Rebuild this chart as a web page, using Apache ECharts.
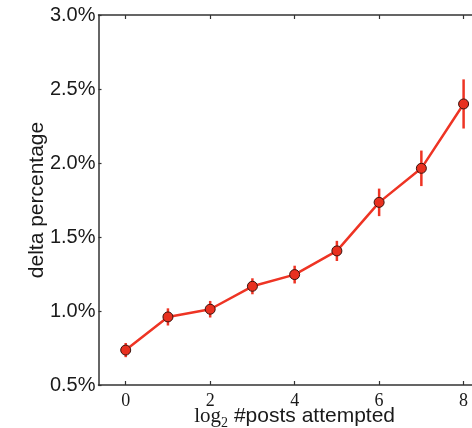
<!DOCTYPE html>
<html>
<head>
<meta charset="utf-8">
<script src="https://cdn.jsdelivr.net/npm/echarts@6/dist/echarts.min.js"></script>
<style>
  html, body { margin: 0; padding: 0; background: #fff; }
  #chart { width: 472px; height: 428px; }
</style>
</head>
<body>
<div id="chart"></div>
<script>
// log2 of the number of posts attempted
const postsLog2 = [0, 1, 2, 3, 4, 5, 6, 7, 8];
// mean delta percentage (in %) and its error half-width
const deltaPct = [0.736, 0.960, 1.012, 1.167, 1.246, 1.406, 1.734, 1.964, 2.399];
const deltaErr = [0.048, 0.058, 0.056, 0.054, 0.060, 0.068, 0.093, 0.120, 0.166];
// tick values
const xTicks = [0, 2, 4, 6, 8];
const yTicks = [0.5, 1.0, 1.5, 2.0, 2.5, 3.0];

const RED = '#ee3424';
const INK = '#1a1a1a';
const SANS = '"Liberation Sans", Arial, Helvetica, sans-serif';
const SERIF = '"Liberation Serif", "Times New Roman", serif';

const points = postsLog2.map((x, i) => [x, deltaPct[i]]);
const bars = postsLog2.map((x, i) => [x, deltaPct[i] - deltaErr[i], deltaPct[i] + deltaErr[i]]);

const chart = echarts.init(document.getElementById('chart'), null, { renderer: 'canvas' });

const axisLineStyle = { color: '#333', width: 1.5 };

chart.setOption({
  animation: false,
  backgroundColor: '#fff',
  grid: {
    left: 98.5, top: 15, right: -18.8, bottom: 43,
    containLabel: false,
    outerBoundsMode: 'none'
  },
  xAxis: [
    {
      type: 'value',
      position: 'bottom',
      min: -0.644,
      max: 8.644,
      splitLine: { show: false },
      axisLine: { show: true, onZero: false, lineStyle: axisLineStyle },
      axisTick: { show: true, inside: true, length: 4, customValues: xTicks, lineStyle: { color: '#333', width: 1.2 } },
      axisLabel: {
        customValues: xTicks,
        margin: 7,
        fontFamily: SERIF,
        fontSize: 18,
        color: INK
      },
      name: '{s|log}{sub|2}{a| #posts attempted}',
      nameLocation: 'middle',
      nameMoveOverlap: false,
      nameGap: 17,
      nameTextStyle: {
        rich: {
          s: { fontFamily: SERIF, fontSize: 21, color: INK, lineHeight: 28, verticalAlign: 'middle' },
          sub: { fontFamily: SERIF, fontSize: 14, color: INK, lineHeight: 28, verticalAlign: 'bottom' },
          a: { fontFamily: SANS, fontSize: 21, color: INK, lineHeight: 28, verticalAlign: 'middle' }
        }
      }
    },
    {
      type: 'value',
      position: 'top',
      min: -0.644,
      max: 8.644,
      splitLine: { show: false },
      axisLine: { show: true, onZero: false, lineStyle: axisLineStyle },
      axisTick: { show: true, inside: true, length: 4, customValues: xTicks, lineStyle: { color: '#333', width: 1.2 } },
      axisLabel: { show: false }
    }
  ],
  yAxis: {
    type: 'value',
    min: yTicks[0],
    max: yTicks[yTicks.length - 1],
    interval: 0.5,
    splitLine: { show: false },
    axisLine: { show: true, onZero: false, lineStyle: axisLineStyle },
    axisTick: { show: true, inside: true, length: 3, lineStyle: { color: '#333', width: 1.2 } },
    axisLabel: {
      margin: 3,
      fontFamily: SANS,
      fontSize: 20,
      color: INK,
      formatter: v => v.toFixed(1) + '%'
    },
    name: 'delta percentage',
    nameLocation: 'middle',
    nameMoveOverlap: false,
    nameGap: 51,
    nameTextStyle: { fontFamily: SANS, fontSize: 21, color: INK }
  },
  series: [
    {
      type: 'custom',
      name: 'error',
      z: 2,
      data: bars,
      renderItem: (params, api) => {
        const lo = api.coord([api.value(0), api.value(1)]);
        const hi = api.coord([api.value(0), api.value(2)]);
        return {
          type: 'line',
          shape: { x1: lo[0], y1: lo[1], x2: hi[0], y2: hi[1] },
          style: { stroke: RED, lineWidth: 2.5 }
        };
      }
    },
    {
      type: 'line',
      name: 'delta',
      z: 3,
      data: points,
      lineStyle: { color: RED, width: 2.5 },
      symbol: 'circle',
      symbolSize: 10,
      itemStyle: { color: '#e8301f', borderColor: '#3a120c', borderWidth: 1 }
    }
  ]
});
</script>
</body>
</html>
